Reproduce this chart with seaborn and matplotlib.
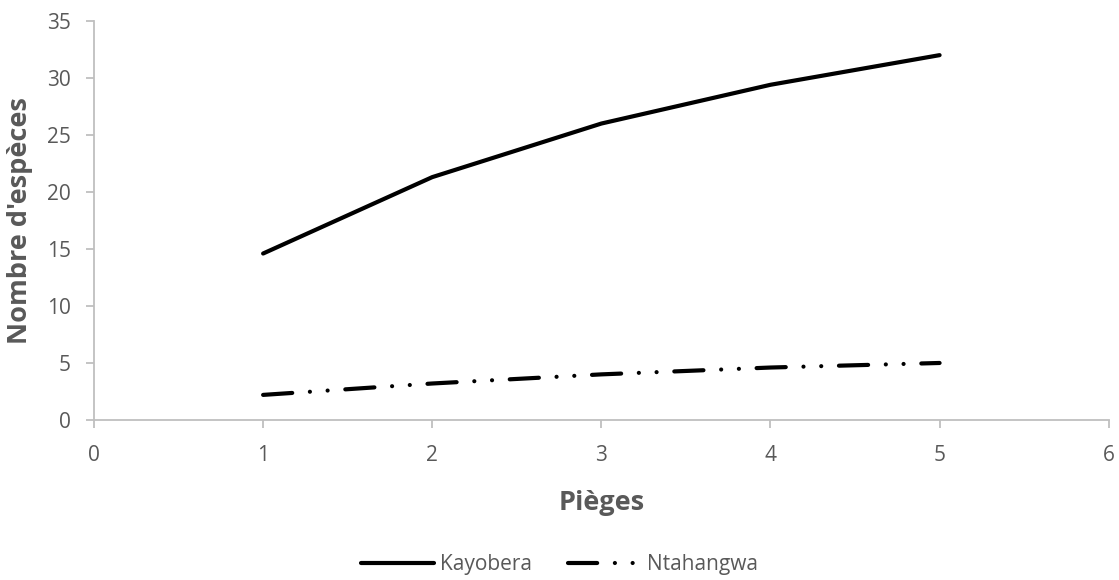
import matplotlib
matplotlib.use('Agg')
import matplotlib.pyplot as plt
import pandas as pd
import seaborn as sns

# valeurs
pieges = [1, 2, 3, 4, 5]
kayobera = [14.6, 21.3, 26.0, 29.4, 32.0]
ntahangwa = [2.2, 3.2, 4.0, 4.6, 5.0]
sites = ['Kayobera', 'Ntahangwa']

df = pd.DataFrame({
    'Pièges': pieges * 2,
    'Nombre': kayobera + ntahangwa,
    'Site': [sites[0]] * len(pieges) + [sites[1]] * len(pieges),
})

sns.set_style('white')
plt.rcParams['font.family'] = ['Open Sans', 'DejaVu Sans']

grey = '#595959'
axis_grey = '#bfbfbf'

fig = plt.figure(figsize=(11.19, 5.8), dpi=100)
ax = fig.add_axes([0.084, 0.2759, 0.9068, 0.688])

sns.lineplot(data=df, x='Pièges', y='Nombre', hue='Site', style='Site',
             palette={'Kayobera': 'black', 'Ntahangwa': 'black'},
             dashes={'Kayobera': '', 'Ntahangwa': (7, 4.25, 0.01, 4.25, 0.01, 4.25)},
             linewidth=3, ax=ax)
for line in ax.lines:
    line.set_dash_capstyle('round')
    line.set_solid_capstyle('round')

ax.set_xlim(0, 6)
ax.set_ylim(0, 35)
ax.set_xticks(range(0, 7))
ax.set_yticks(range(0, 36, 5))

for s in ['top', 'right']:
    ax.spines[s].set_visible(False)
for s in ['left', 'bottom']:
    ax.spines[s].set_color(axis_grey)
    ax.spines[s].set_linewidth(1.3)

ax.tick_params(axis='both', which='both', direction='out', length=6, width=1.3,
               color=axis_grey, labelcolor=grey, labelsize=15)
ax.tick_params(axis='y', left=True, pad=10.5)
ax.tick_params(axis='x', bottom=True, pad=12)

ax.set_xlabel('Pièges', fontsize=19.5, fontweight='bold', color=grey, labelpad=17)
ax.set_ylabel("Nombre d'espèces", fontsize=19.5, fontweight='bold', color=grey, labelpad=10)

leg = ax.legend(loc='center', bbox_to_anchor=(0.5, 0.026), bbox_transform=fig.transFigure,
                ncol=2, frameon=False, fontsize=15, handlelength=3.5, columnspacing=1.7,
                labelcolor=grey, handletextpad=0.3, borderpad=0)
for h in leg.get_lines():
    h.set_dash_capstyle('round')
    h.set_solid_capstyle('round')
    h.set_linewidth(3)

plt.savefig('out.png', dpi=100)
plt.close()
